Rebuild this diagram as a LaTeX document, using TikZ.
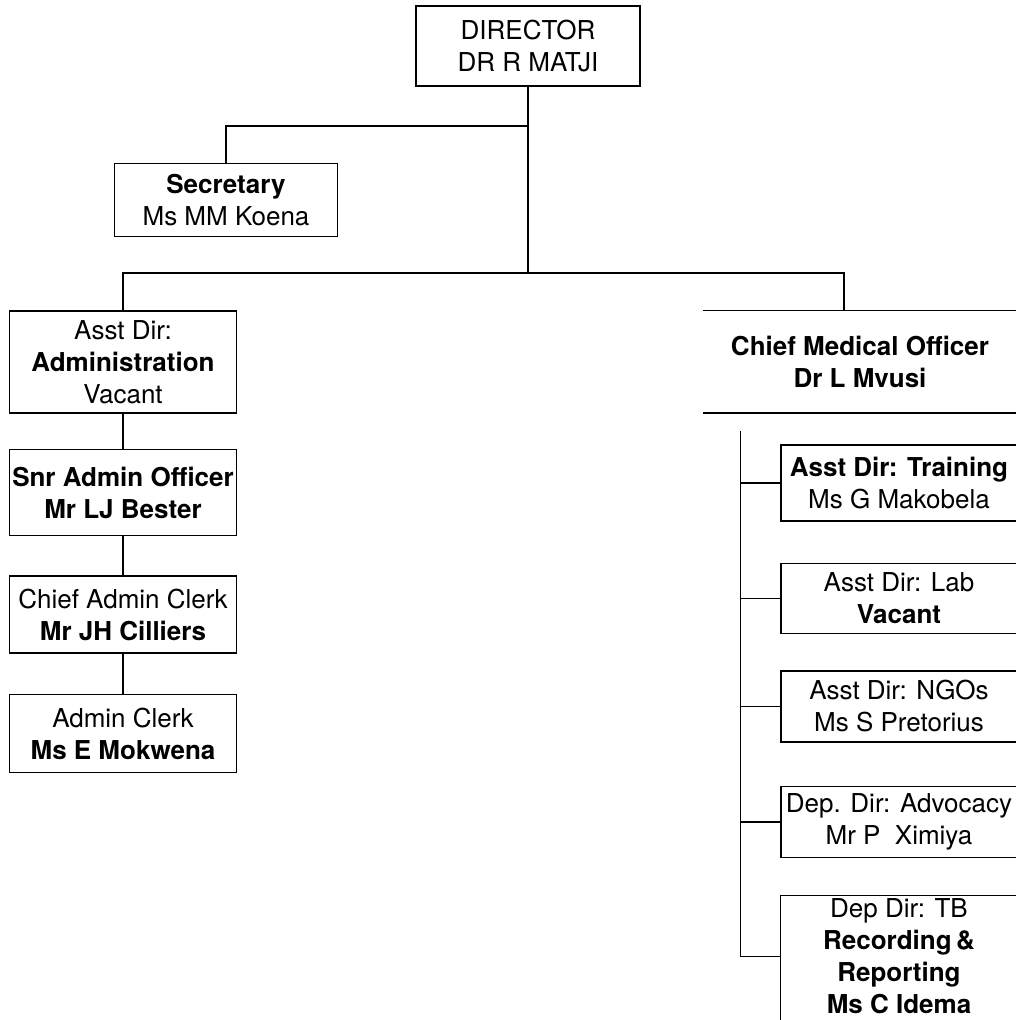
\documentclass[tikz,border=0pt]{standalone}
\usepackage{fontspec}
\setmainfont{TeX Gyre Heros}
\usetikzlibrary{positioning}
\tikzstyle{post} = [rectangle, draw=black, line width=1.5pt, align=center, text centered, inner sep=3pt, font=\fontsize{26}{32}\selectfont]
\tikzstyle{openpost} = [post, draw=none]
\tikzstyle{adminpost} = [post, minimum width=227pt]
\tikzstyle{medpost} = [post, minimum width=236pt]
\tikzstyle{link} = [line width=1.5pt]

\begin{document}
\begin{tikzpicture}[x=1pt, y=-1pt, node distance=38pt]
\useasboundingbox (0,0) rectangle (1016,1020);

% Director and Secretary
\node (dir) [post, minimum width=224pt, minimum height=80pt] at (528,46) {DIRECTOR\\DR R MATJI};
\node (sec) [post, minimum width=223pt, minimum height=73pt] at (226,200) {\textbf{Secretary}\\Ms MM Koena};

% Administration
\node (admin) [adminpost, minimum height=102pt] at (123,362) {Asst Dir:\\\textbf{Administration}\\Vacant};
\node (snr) [adminpost, minimum height=86pt, below=35pt of admin] {\textbf{Snr Admin Officer}\\\textbf{Mr LJ Bester}};
\node (cac) [adminpost, minimum height=77pt, below=39pt of snr] {Chief Admin Clerk\\\textbf{Mr JH Cilliers}};
\node (ac) [adminpost, minimum height=78pt, below=40pt of cac] {Admin Clerk\\\textbf{Ms E Mokwena}};

% Medical
\node (cmo) [openpost, minimum width=312pt, minimum height=101pt] at (860,361.5) {\textbf{Chief Medical Officer}\\\textbf{Dr L Mvusi}};
\node (train) [medpost, minimum height=76pt] at (899,483) {\textbf{Asst Dir: Training}\\Ms G Makobela};
\node (lab) [medpost, minimum height=70pt, below=41pt of train] {Asst Dir: Lab\\\textbf{Vacant}};
\node (ngo) [medpost, minimum height=71pt, below=36pt of lab] {Asst Dir: NGOs\\Ms S Pretorius};
\node (adv) [medpost, minimum height=71pt, below=43pt of ngo] {Dep. Dir: Advocacy\\Mr P\ \ Ximiya};
\node (tb) [medpost, draw=none, minimum height=120pt, below=37pt of adv] {Dep Dir: TB\\\textbf{Recording\,\&}\\\textbf{Reporting}\\\textbf{Ms C Idema}};

% Lines
\draw [link] (cmo.north west) -- (cmo.north east);
\draw [link] (cmo.south west) -- (cmo.south east);
\draw [link] ([yshift=-12pt]tb.south west) |- (tb.north east) -- ([yshift=-12pt]tb.south east);
\draw [link] (dir.south) -- ++(0,39) -| (sec.north);
\draw [link] (dir.south) -- ++(0,186) coordinate (bus);
\draw [link] (admin.north) |- (bus) -| ([xshift=-16pt]cmo.north);
\draw [link] (admin) -- (snr);
\draw [link] (snr) -- (cac);
\draw [link] (cac) -- (ac);
\coordinate (rbus) at ([xshift=37pt, yshift=-18pt]cmo.south west);
\draw [link] (rbus) |- (tb.west);
\foreach \n in {train,lab,ngo,adv}
  \draw [link] (rbus |- \n.west) -- (\n.west);

\end{tikzpicture}
\end{document}
